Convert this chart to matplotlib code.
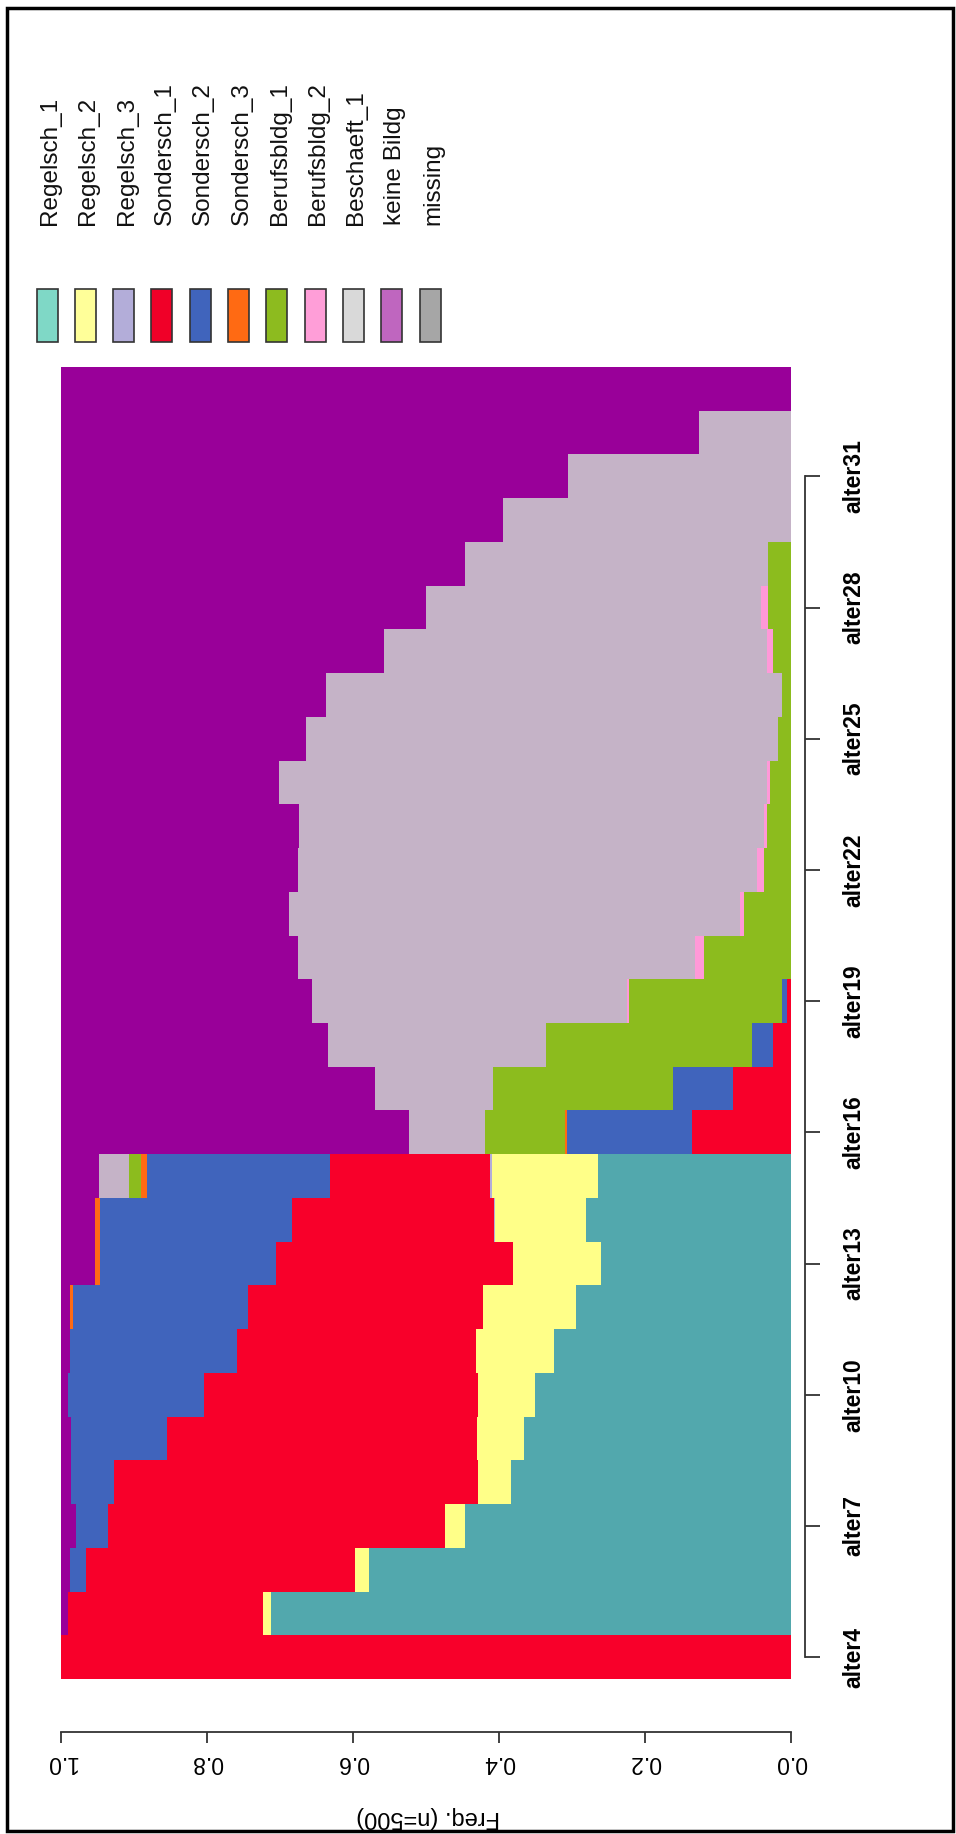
import numpy as np
import matplotlib.pyplot as plt
from matplotlib.patches import Rectangle

plt.rcParams['font.family'] = ['Liberation Sans', 'DejaVu Sans']

# time points alter4 .. alter33
ages = [f"alter{a}" for a in range(4, 34)]

states = ["Regelsch_1", "Regelsch_2", "Regelsch_3", "Sondersch_1", "Sondersch_2",
          "Sondersch_3", "Berufsbldg_1", "Berufsbldg_2", "Beschaeft_1", "keine Bildg", "missing"]

# relative frequency of each state per time point (n=500)
regelsch_1 = [0, 0.713, 0.578, 0.446, 0.383, 0.366, 0.351, 0.325, 0.294, 0.260, 0.281, 0.264,
              0, 0, 0, 0, 0, 0, 0, 0, 0, 0, 0, 0, 0, 0, 0, 0, 0, 0]
regelsch_2 = [0, 0.010, 0.019, 0.028, 0.046, 0.064, 0.078, 0.107, 0.128, 0.121, 0.124, 0.146,
              0, 0, 0, 0, 0, 0, 0, 0, 0, 0, 0, 0, 0, 0, 0, 0, 0, 0]
regelsch_3 = [0, 0, 0, 0, 0, 0, 0, 0, 0, 0, 0.002, 0.002,
              0, 0, 0, 0, 0, 0, 0, 0, 0, 0, 0, 0, 0, 0, 0, 0, 0, 0]
sondersch_1 = [1.0, 0.268, 0.369, 0.462, 0.498, 0.425, 0.375, 0.327, 0.322, 0.324, 0.276, 0.219,
               0.136, 0.079, 0.025, 0.005, 0, 0, 0, 0, 0, 0, 0, 0, 0, 0, 0, 0, 0, 0]
sondersch_2 = [0, 0, 0.021, 0.043, 0.059, 0.131, 0.186, 0.229, 0.240, 0.242, 0.263, 0.251,
               0.171, 0.083, 0.028, 0.007, 0, 0, 0, 0, 0, 0, 0, 0, 0, 0, 0, 0, 0, 0]
sondersch_3 = [0, 0, 0, 0, 0, 0, 0, 0, 0.003, 0.007, 0.007, 0.008,
               0.003, 0, 0, 0, 0, 0, 0, 0, 0, 0, 0, 0, 0, 0, 0, 0, 0, 0]
berufsbldg_1 = [0, 0, 0, 0, 0, 0, 0, 0, 0, 0, 0, 0.017,
                0.109, 0.246, 0.282, 0.210, 0.119, 0.065, 0.037, 0.033, 0.029, 0.018, 0.013,
                0.025, 0.031, 0.031, 0, 0, 0, 0]
berufsbldg_2 = [0, 0, 0, 0, 0, 0, 0, 0, 0, 0, 0, 0,
                0, 0, 0, 0.003, 0.012, 0.005, 0.010, 0.004, 0.004, 0, 0,
                0.008, 0.010, 0, 0, 0, 0, 0]
beschaeft_1 = [0, 0, 0, 0, 0, 0, 0, 0, 0, 0, 0, 0.041,
               0.104, 0.162, 0.299, 0.431, 0.545, 0.617, 0.629, 0.637, 0.669, 0.647, 0.624,
               0.524, 0.459, 0.415, 0.394, 0.306, 0.126, 0]
keine_bildg = [0, 0.009, 0.013, 0.021, 0.014, 0.014, 0.010, 0.012, 0.013, 0.046, 0.047, 0.052,
               0.477, 0.430, 0.366, 0.344, 0.324, 0.313, 0.324, 0.326, 0.298, 0.335, 0.363,
               0.443, 0.500, 0.554, 0.606, 0.694, 0.874, 1.0]
missing = [0] * 30

bar_colors = ["#52a8ad", "#ffff88", "#b3add9", "#f8002a", "#4064bc", "#ff6a13",
              "#8cbc1e", "#ff99d8", "#c5b3c7", "#990099", "#a6a6a6"]
legend_colors = ["#7fd8c6", "#ffff99", "#b3add9", "#f00028", "#4064bc", "#ff6a13",
                 "#8dbb1f", "#ff9ed8", "#d9d9d9", "#bf66bf", "#a6a6a6"]

series = [regelsch_1, regelsch_2, regelsch_3, sondersch_1, sondersch_2, sondersch_3,
          berufsbldg_1, berufsbldg_2, beschaeft_1, keine_bildg, missing]

W, H = 956, 1834
fig = plt.figure(figsize=(W / 100, H / 100), dpi=100)


def fx(px):
    return px / W


def fy(py):
    return 1 - py / H


# plot region in pixels
left, right, top, bottom = 61, 791, 367, 1679
ax = fig.add_axes([fx(left), fy(bottom), fx(right - left), (bottom - top) / H])

pos = np.arange(len(ages))
cum = np.zeros(len(ages))
for vals, col in zip(series, bar_colors):
    vals = np.array(vals, dtype=float)
    ax.barh(pos, vals, left=cum, height=1.0, color=col, linewidth=0)
    cum += vals

ax.set_xlim(1, 0)
ax.set_ylim(-0.5, len(ages) - 0.5)

for s in ["top", "left"]:
    ax.spines[s].set_visible(False)
ax.spines["bottom"].set_position(("outward", 53 * 0.72))
ax.spines["bottom"].set_bounds(0, 1)
ax.spines["right"].set_position(("outward", 14 * 0.72))
ax.spines["right"].set_bounds(0, 27)
for s in ["bottom", "right"]:
    ax.spines[s].set_color("#333333")
    ax.spines[s].set_linewidth(1.3)

ax.set_xticks(np.linspace(0, 1, 6))
ax.set_xticklabels([f"{v:.1f}" for v in np.linspace(0, 1, 6)], rotation=180,
                   fontsize=16.5, va="top", ha="center")
ax.tick_params(axis="x", length=8, width=1.3, color="#333333", pad=6)

ax.yaxis.tick_right()
ax.set_yticks(pos[::3])
ax.set_yticklabels(ages[::3], rotation=90, va="center", ha="left",
                   fontsize=16.5, fontweight="bold",
                   family=["Liberation Sans Narrow", "Liberation Sans"])
ax.tick_params(axis="y", length=11, width=1.3, color="#333333", pad=16)

fig.text(fx(428), fy(1817), "Freq. (n=500)", rotation=180, fontsize=17,
         ha="center", va="center")

# legend: swatches with rotated labels above
for k, (name, col) in enumerate(zip(states, legend_colors)):
    cx = 47 + k * 38.3
    fig.patches.append(Rectangle((fx(cx - 10.5), fy(342)), fx(21), 53 / H,
                                 transform=fig.transFigure, facecolor=col,
                                 edgecolor="#333333", linewidth=1.2))
    fig.text(fx(cx + 3), fy(225), name, rotation=90, fontsize=17.5,
             ha="center", va="bottom", color="#111111")

# outer frame
fig.patches.append(Rectangle((fx(7), fy(1831)), fx(946), 1823 / H,
                             transform=fig.transFigure, fill=False,
                             edgecolor="black", linewidth=2.5))

fig.savefig("out.png", dpi=100)
